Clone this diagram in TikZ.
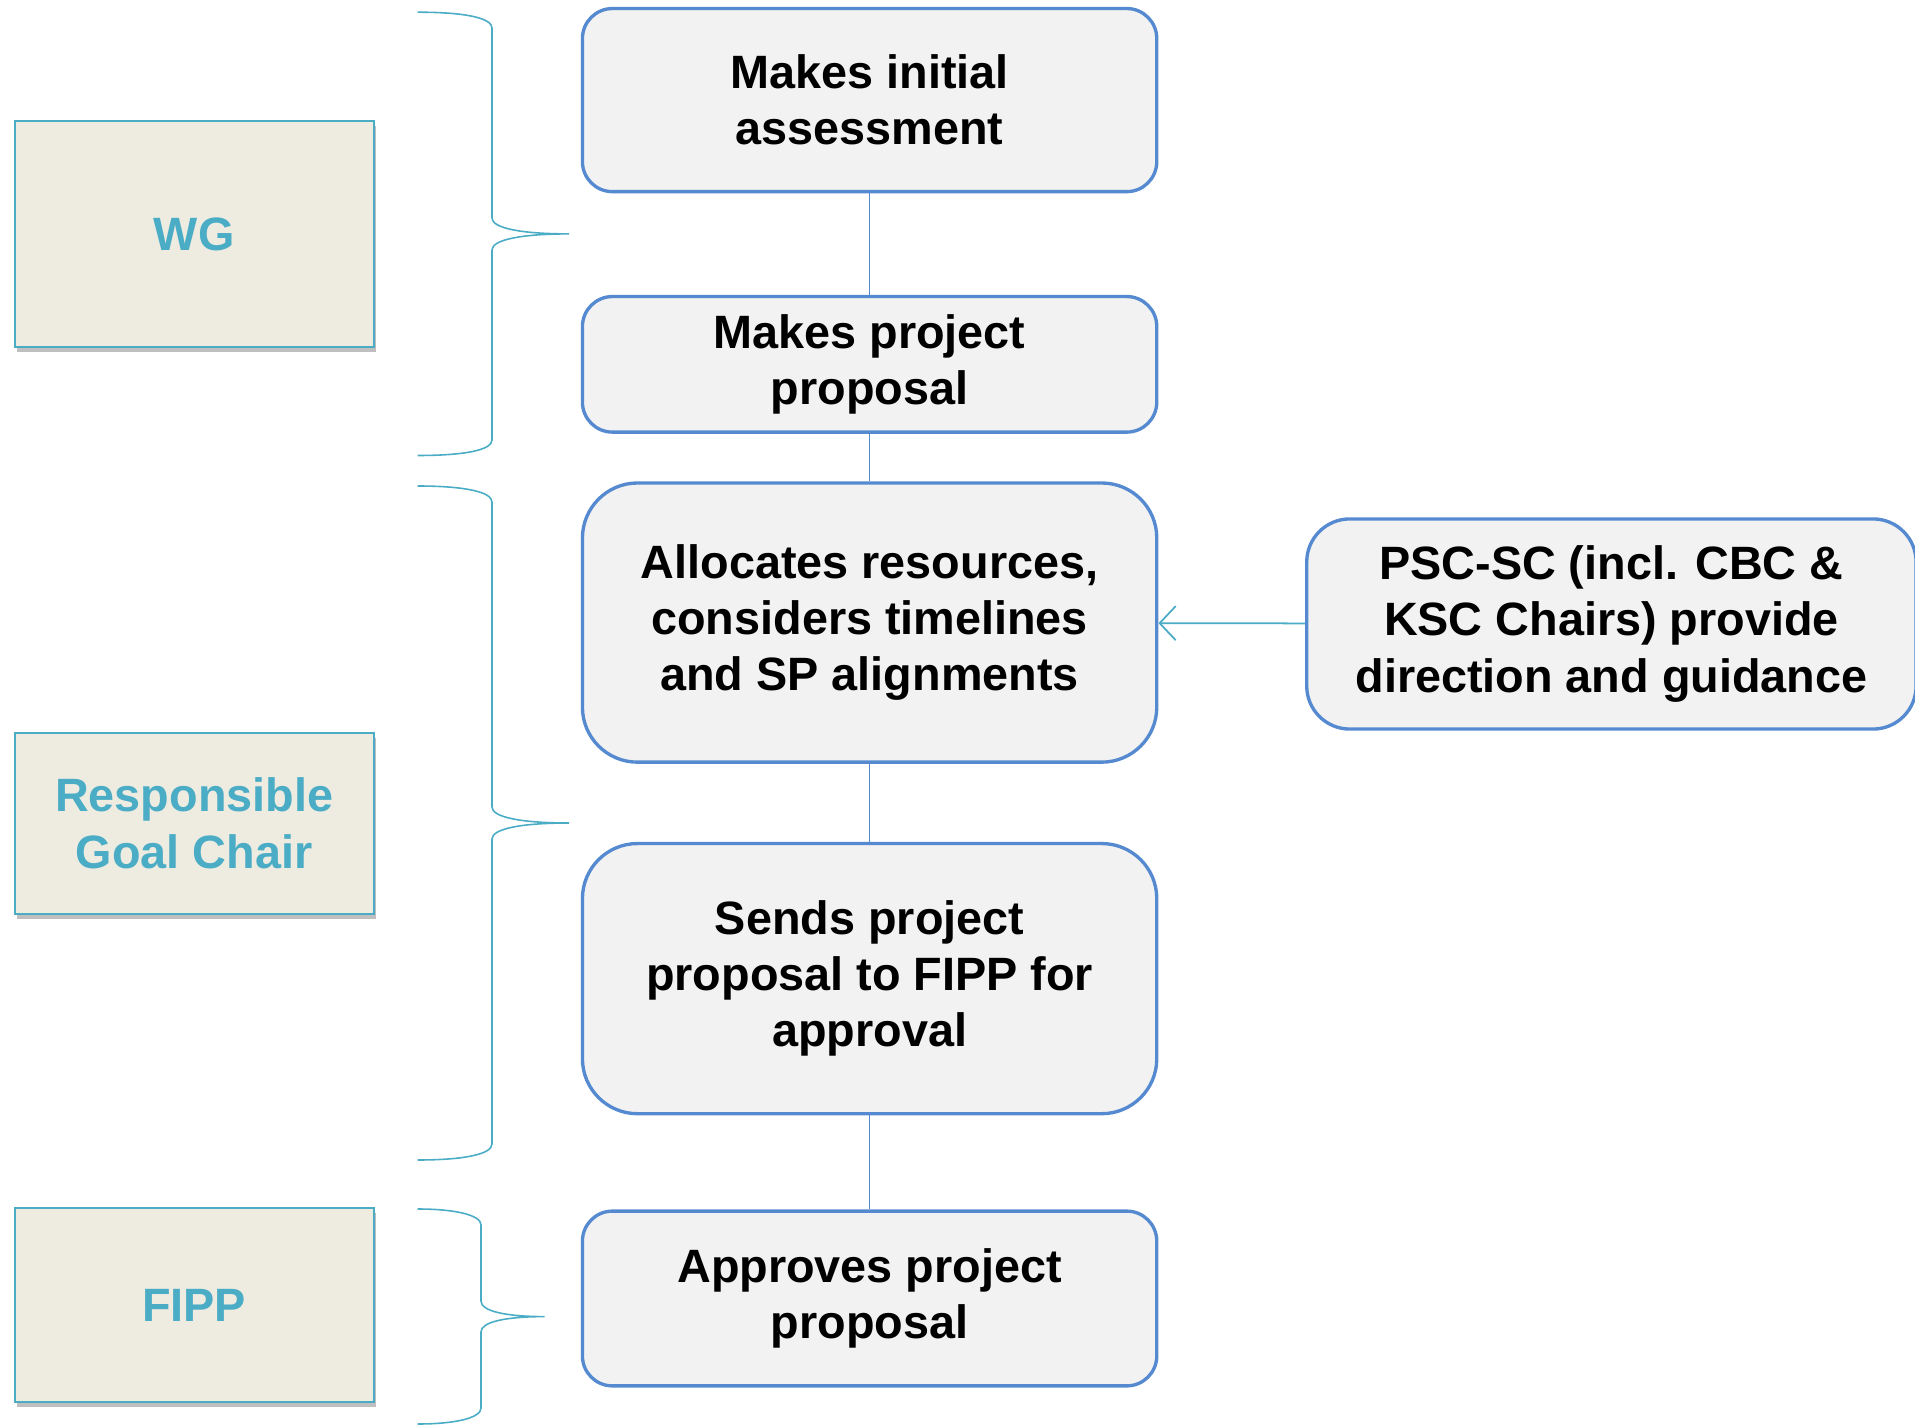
\documentclass[tikz,border=0pt]{standalone}
\usepackage{fontspec}
\setmainfont{Liberation Sans}
\usepackage{xcolor}
\usepackage{tikz}
\usetikzlibrary{positioning,arrows.meta,shadows}

\definecolor{boxline}{RGB}{86,138,208}
\definecolor{boxfill}{RGB}{242,242,242}
\definecolor{teal}{RGB}{75,172,198}
\definecolor{rolefill}{RGB}{238,236,225}

\begin{document}
\begin{tikzpicture}[x=0.01cm, y=-0.01cm,
	font=\fontsize{13.3}{16}\selectfont\bfseries,
	stepbox/.style={draw=boxline, line width=0.95pt, fill=boxfill, rounded corners=0.3cm, minimum width=5.74cm, align=center},
	rolebox/.style={draw=teal, line width=0.6pt, fill=rolefill, text=teal, minimum width=3.59cm, align=center, drop shadow={shadow xshift=0.6pt, shadow yshift=-1.4pt, opacity=0.5}},
	link/.style={draw=boxline, line width=0.45pt},
	brace/.style={draw=teal, line width=0.45pt},
	guide/.style={draw=teal, line width=0.5pt, -{Straight Barb[length=1.6mm, width=3.4mm]}}]
		\useasboundingbox (0,0) rectangle (1915,1425);
		% main column
		\node[stepbox, minimum height=1.83cm] (assess) at (869.6,100.1) {Makes initial\\assessment};
		\node[stepbox, minimum height=1.355cm, below=1.015cm of assess] (propose) {Makes project\\proposal};
		\node[stepbox, minimum height=2.79cm, rounded corners=0.55cm, below=0.475cm of propose] (alloc) {Allocates resources,\\considers timelines\\and SP alignments};
		\node[stepbox, minimum height=2.7cm, rounded corners=0.55cm, below=0.78cm of alloc] (send) {Sends project\\proposal to FIPP for\\approval};
		\node[stepbox, minimum height=1.747cm, below=0.94cm of send] (approve) {Approves project\\proposal};
		\node[stepbox, minimum height=2.1cm, minimum width=6.09cm, rounded corners=0.43cm] (psc) at (1611.4,624) {PSC-SC (incl. CBC \&\\KSC Chairs) provide\\direction and guidance};
		% roles
		\node[rolebox, minimum height=2.26cm] (wg) at (194.2,234) {WG};
		\node[rolebox, minimum height=1.807cm] (chair) at (194.2,823.2) {Responsible\\Goal Chair};
		\node[rolebox, minimum height=1.94cm] (fipp) at (194.2,1305) {FIPP};
		% connectors
		\draw[link] (assess) -- (propose);
		\draw[link] (propose) -- (alloc);
		\draw[link] (alloc) -- (send);
		\draw[link] (send) -- (approve);
		\draw[guide] (psc) -- (alloc);
		% braces
		\draw[brace] (417.7,12.2) .. controls (465,12.2) and (492,18) .. (492,28) -- (492,218) .. controls (492,228) and (520,233.9) .. (569,233.9)
			.. controls (520,233.9) and (492,240) .. (492,250) -- (492,440) .. controls (492,450) and (465,455.5) .. (417.7,455.5);
		\draw[brace] (417.7,486) .. controls (465,486) and (492,492) .. (492,502) -- (492,807) .. controls (492,817) and (520,823) .. (569,823)
			.. controls (520,823) and (492,829) .. (492,839) -- (492,1144) .. controls (492,1154) and (465,1160) .. (417.7,1160);
		\draw[brace] (417.7,1209) .. controls (455,1209) and (481,1215) .. (481,1225) -- (481,1301) .. controls (481,1311) and (505,1316.6) .. (544.7,1316.6)
			.. controls (505,1316.6) and (481,1322) .. (481,1332) -- (481,1408) .. controls (481,1418) and (455,1424) .. (417.7,1424);
	\end{tikzpicture}
\end{document}
